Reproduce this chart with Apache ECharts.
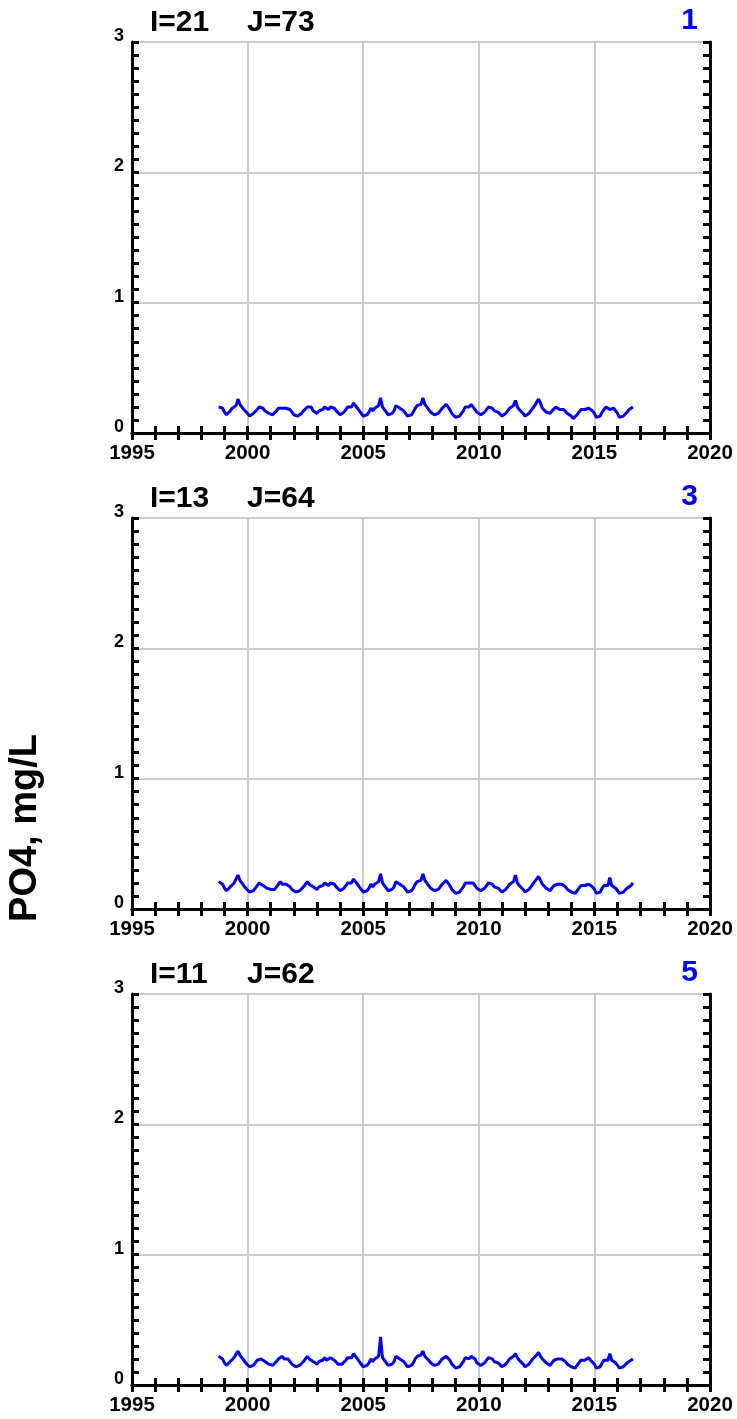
<!DOCTYPE html>
<html>
<head>
<meta charset="utf-8">
<script src="https://cdn.jsdelivr.net/npm/echarts@6/dist/echarts.min.js"></script>
<style>
  html, body { margin: 0; padding: 0; background: #fff; }
  #main { width: 737px; height: 1419px; }
</style>
</head>
<body>
<div id="main"></div>
<script>
// monthly PO4 values, first value = Oct 1998, last = Sep 2016
var startYear = 1998.75;
var po4Station1 = [
  0.20, 0.20, 0.19,
  0.16, 0.14, 0.15, 0.17, 0.19, 0.20, 0.21, 0.26, 0.22, 0.20, 0.18, 0.17,
  0.15, 0.13, 0.13, 0.15, 0.16, 0.18, 0.20, 0.19, 0.19, 0.17, 0.16, 0.15,
  0.15, 0.14, 0.15, 0.17, 0.19, 0.20, 0.19, 0.20, 0.19, 0.20, 0.18, 0.16,
  0.14, 0.14, 0.13, 0.13, 0.15, 0.17, 0.17, 0.20, 0.19, 0.20, 0.17, 0.16,
  0.15, 0.17, 0.16, 0.18, 0.20, 0.19, 0.18, 0.20, 0.19, 0.19, 0.17, 0.16,
  0.14, 0.15, 0.16, 0.18, 0.20, 0.21, 0.20, 0.23, 0.21, 0.19, 0.17, 0.16,
  0.13, 0.12, 0.14, 0.16, 0.19, 0.17, 0.19, 0.20, 0.21, 0.27, 0.20, 0.18,
  0.16, 0.14, 0.14, 0.15, 0.17, 0.21, 0.20, 0.19, 0.18, 0.17, 0.15, 0.13,
  0.12, 0.14, 0.16, 0.19, 0.21, 0.20, 0.22, 0.27, 0.22, 0.20, 0.18, 0.16,
  0.16, 0.14, 0.13, 0.15, 0.16, 0.19, 0.19, 0.22, 0.20, 0.18, 0.15, 0.14,
  0.12, 0.11, 0.13, 0.15, 0.17, 0.20, 0.21, 0.20, 0.22, 0.20, 0.19, 0.16,
  0.16, 0.14, 0.14, 0.16, 0.18, 0.20, 0.20, 0.19, 0.17, 0.18, 0.16, 0.15,
  0.13, 0.13, 0.15, 0.17, 0.19, 0.20, 0.21, 0.25, 0.20, 0.18, 0.17, 0.15,
  0.13, 0.12, 0.15, 0.17, 0.19, 0.21, 0.22, 0.26, 0.23, 0.19, 0.18, 0.16,
  0.15, 0.15, 0.17, 0.18, 0.20, 0.19, 0.18, 0.19, 0.18, 0.17, 0.15, 0.16,
  0.13, 0.11, 0.12, 0.14, 0.16, 0.18, 0.19, 0.18, 0.19, 0.19, 0.18, 0.17,
  0.15, 0.12, 0.12, 0.13, 0.16, 0.18, 0.20, 0.19, 0.18, 0.18, 0.19, 0.17,
  0.15, 0.12, 0.11, 0.13, 0.14, 0.16, 0.18, 0.19, 0.20
];
var po4Station3 = [
  0.21, 0.21, 0.19,
  0.16, 0.14, 0.15, 0.17, 0.18, 0.20, 0.21, 0.26, 0.22, 0.20, 0.18, 0.16,
  0.15, 0.13, 0.13, 0.14, 0.16, 0.18, 0.20, 0.19, 0.18, 0.17, 0.16, 0.15,
  0.15, 0.14, 0.15, 0.17, 0.19, 0.21, 0.19, 0.20, 0.19, 0.19, 0.17, 0.15,
  0.14, 0.13, 0.13, 0.14, 0.15, 0.17, 0.18, 0.21, 0.19, 0.19, 0.17, 0.16,
  0.15, 0.17, 0.16, 0.18, 0.20, 0.19, 0.18, 0.20, 0.19, 0.19, 0.17, 0.16,
  0.14, 0.15, 0.16, 0.18, 0.20, 0.21, 0.20, 0.23, 0.21, 0.19, 0.17, 0.16,
  0.13, 0.13, 0.14, 0.16, 0.19, 0.17, 0.19, 0.20, 0.21, 0.27, 0.20, 0.18,
  0.16, 0.14, 0.14, 0.15, 0.17, 0.21, 0.20, 0.19, 0.18, 0.17, 0.15, 0.13,
  0.12, 0.14, 0.16, 0.19, 0.21, 0.20, 0.22, 0.27, 0.22, 0.20, 0.18, 0.16,
  0.16, 0.14, 0.13, 0.15, 0.16, 0.19, 0.19, 0.22, 0.20, 0.18, 0.15, 0.14,
  0.12, 0.11, 0.13, 0.15, 0.17, 0.20, 0.21, 0.20, 0.21, 0.20, 0.19, 0.16,
  0.16, 0.14, 0.14, 0.16, 0.18, 0.20, 0.20, 0.19, 0.17, 0.18, 0.16, 0.15,
  0.13, 0.13, 0.15, 0.17, 0.19, 0.20, 0.21, 0.26, 0.20, 0.18, 0.17, 0.15,
  0.13, 0.12, 0.15, 0.17, 0.19, 0.21, 0.22, 0.25, 0.22, 0.19, 0.18, 0.16,
  0.15, 0.14, 0.16, 0.18, 0.19, 0.19, 0.18, 0.19, 0.18, 0.17, 0.15, 0.16,
  0.13, 0.12, 0.12, 0.14, 0.16, 0.18, 0.19, 0.18, 0.19, 0.19, 0.19, 0.17,
  0.15, 0.12, 0.12, 0.13, 0.16, 0.18, 0.19, 0.18, 0.24, 0.18, 0.17, 0.16,
  0.14, 0.12, 0.12, 0.13, 0.14, 0.16, 0.17, 0.18, 0.20
];
var po4Station5 = [
  0.22, 0.22, 0.20,
  0.17, 0.15, 0.16, 0.18, 0.19, 0.21, 0.22, 0.26, 0.23, 0.21, 0.19, 0.17,
  0.16, 0.14, 0.14, 0.15, 0.17, 0.19, 0.20, 0.20, 0.19, 0.18, 0.17, 0.16,
  0.16, 0.15, 0.16, 0.18, 0.20, 0.21, 0.22, 0.20, 0.19, 0.20, 0.18, 0.16,
  0.15, 0.14, 0.14, 0.15, 0.16, 0.18, 0.20, 0.22, 0.20, 0.19, 0.18, 0.17,
  0.16, 0.18, 0.17, 0.19, 0.21, 0.19, 0.18, 0.21, 0.20, 0.19, 0.18, 0.16,
  0.15, 0.16, 0.17, 0.19, 0.21, 0.22, 0.21, 0.24, 0.22, 0.20, 0.18, 0.17,
  0.14, 0.14, 0.15, 0.17, 0.20, 0.18, 0.20, 0.21, 0.22, 0.37, 0.21, 0.19,
  0.17, 0.15, 0.14, 0.16, 0.18, 0.22, 0.21, 0.20, 0.19, 0.18, 0.16, 0.14,
  0.13, 0.15, 0.17, 0.20, 0.22, 0.21, 0.23, 0.26, 0.22, 0.21, 0.19, 0.17,
  0.17, 0.15, 0.14, 0.16, 0.17, 0.20, 0.20, 0.22, 0.21, 0.19, 0.16, 0.15,
  0.13, 0.12, 0.14, 0.16, 0.18, 0.21, 0.21, 0.20, 0.22, 0.21, 0.20, 0.17,
  0.17, 0.15, 0.15, 0.17, 0.19, 0.21, 0.21, 0.20, 0.18, 0.19, 0.17, 0.16,
  0.14, 0.14, 0.16, 0.18, 0.20, 0.21, 0.22, 0.24, 0.21, 0.19, 0.18, 0.16,
  0.14, 0.13, 0.16, 0.18, 0.20, 0.21, 0.23, 0.25, 0.22, 0.20, 0.19, 0.17,
  0.16, 0.15, 0.17, 0.19, 0.20, 0.20, 0.19, 0.20, 0.19, 0.18, 0.16, 0.17,
  0.14, 0.13, 0.13, 0.15, 0.17, 0.19, 0.20, 0.19, 0.20, 0.21, 0.19, 0.18,
  0.16, 0.13, 0.13, 0.14, 0.17, 0.19, 0.20, 0.19, 0.24, 0.19, 0.18, 0.17,
  0.15, 0.13, 0.13, 0.14, 0.15, 0.17, 0.18, 0.19, 0.20
];
var panelI = ['I=21', 'I=13', 'I=11'];
var panelJ = ['J=73', 'J=64', 'J=62'];
var panelNo = ['1', '3', '5'];
var panelData = [po4Station1, po4Station3, po4Station5];

(function () {
    var font = "Arial, 'Liberation Sans', sans-serif";
    var dom = document.getElementById('main');
    var myChart = echarts.init(dom);

    function toPoints(vals) {
        return vals.map(function (v, i) { return [startYear + i / 12, v]; });
    }

    var grids = [], xAxes = [], yAxes = [], series = [], graphics = [];
    var tickLine = {color: '#000', width: 3};

    for (var i = 0; i < 3; i++) {
        var panelTop = 42 + i * 476;
        grids.push({left: 132, width: 578, top: panelTop, height: 391});

        xAxes.push({
            type: 'value', gridIndex: i, position: 'bottom',
            min: 1995, max: 2020, interval: 5,
            axisLine: {lineStyle: tickLine},
            axisTick: {inside: true, length: 7, lineStyle: tickLine},
            minorTick: {show: true, splitNumber: 5, length: 7, lineStyle: tickLine},
            splitLine: {show: true, lineStyle: {color: '#cccccc', width: 2}},
            axisLabel: {color: '#000', fontWeight: 'bold', fontSize: 20.5, fontFamily: font, margin: 10,
                formatter: function (v) { return String(v); }}
        });
        xAxes.push({
            type: 'value', gridIndex: i, position: 'top',
            min: 1995, max: 2020, interval: 5,
            axisLine: {lineStyle: tickLine},
            axisTick: {inside: true, length: 7, lineStyle: tickLine},
            minorTick: {show: true, splitNumber: 5, length: 7, lineStyle: tickLine},
            splitLine: {show: false},
            axisLabel: {show: false}
        });
        yAxes.push({
            type: 'value', gridIndex: i, position: 'left',
            min: 0, max: 3, interval: 1,
            axisLine: {lineStyle: tickLine},
            axisTick: {inside: true, length: 7, lineStyle: tickLine},
            minorTick: {show: true, splitNumber: 10, length: 7, lineStyle: tickLine},
            splitLine: {show: true, lineStyle: {color: '#cccccc', width: 2}},
            axisLabel: {color: '#000', fontWeight: 'bold', fontSize: 18, fontFamily: font, margin: 8,
                verticalAlign: 'bottom', lineHeight: 12}
        });
        yAxes.push({
            type: 'value', gridIndex: i, position: 'right',
            min: 0, max: 3, interval: 1,
            axisLine: {lineStyle: tickLine},
            axisTick: {inside: true, length: 7, lineStyle: tickLine},
            minorTick: {show: true, splitNumber: 10, length: 7, lineStyle: tickLine},
            splitLine: {show: false},
            axisLabel: {show: false}
        });

        series.push({
            type: 'line', xAxisIndex: i * 2, yAxisIndex: i * 2,
            data: toPoints(panelData[i]),
            showSymbol: false,
            lineStyle: {color: '#0000ff', width: 3},
            itemStyle: {color: '#0000ff'},
            z: 1
        });

        graphics.push({type: 'text', x: 150, y: panelTop - 19,
            style: {text: panelI[i], font: 'bold 30px ' + font, fill: '#000', verticalAlign: 'middle'}});
        graphics.push({type: 'text', x: 247, y: panelTop - 19,
            style: {text: panelJ[i], font: 'bold 30px ' + font, fill: '#000', verticalAlign: 'middle'}});
        graphics.push({type: 'text', x: 698, y: panelTop - 21,
            style: {text: panelNo[i], font: 'bold 30px ' + font, fill: '#0000ff', align: 'right', verticalAlign: 'middle'}});
    }

    graphics.push({type: 'text', x: 26, y: 828, rotation: Math.PI / 2,
        style: {text: 'PO4, mg/L', font: 'bold 38px ' + font, fill: '#000', align: 'center', verticalAlign: 'middle'}});

    var option = {
        backgroundColor: '#fff',
        animation: false,
        grid: grids,
        xAxis: xAxes,
        yAxis: yAxes,
        series: series,
        graphic: graphics
    };

    myChart.setOption(option);
})();
</script>
</body>
</html>
